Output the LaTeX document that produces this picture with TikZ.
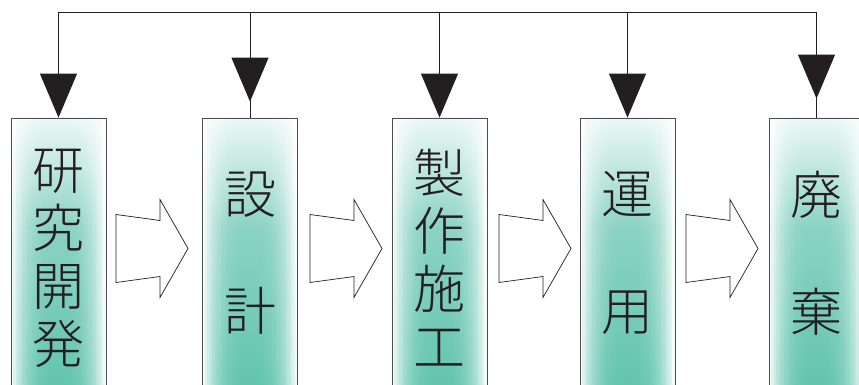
\documentclass[tikz,border=0pt]{standalone}
\usepackage{fontspec}
\newfontfamily\jp{Noto Sans CJK JP}[UprightFont={* Light}]
\usetikzlibrary{arrows.meta}
\definecolor{tealD}{RGB}{94,195,172}
\definecolor{tealM}{RGB}{138,210,195}
\definecolor{ink}{RGB}{35,31,32}
\tikzset{
  stagebox/.style={minimum width=95pt, minimum height=282pt, inner sep=0pt, draw=black!70, line width=0.8pt},
  stagetext/.style={font=\jp\fontsize{52}{58}\selectfont, text=ink, align=center, inner sep=0pt},
  feed/.style={draw=ink, line width=0.9pt},
  feedarrow/.style={feed, -{Triangle[width=37pt,length=44pt]}},
  blockarrow/.style={draw=ink, line width=0.7pt, fill=white, line join=miter}
}
\newcommand\mystage[2]{% name, centre x
  \foreach \i in {0,...,37}{%
    \pgfmathsetmacro\xa{#2-47.5+\i*2.5}%
    \pgfmathsetmacro\u{min(\i+0.5,37.5-\i)/19}%
    \pgfmathtruncatemacro\p{100*(1-(1-\u)^3)}%
    \pgfmathtruncatemacro\q{\p*0.18}%
    \shade[top color=tealM!\q!white, bottom color=tealM!\p!white]
      (\xa,118) rectangle (\xa+2.8,228);
    \shade[top color=tealM!\p!white, bottom color=tealD!\p!white]
      (\xa,227.5) rectangle (\xa+2.8,400);
  }
  \node[stagebox] (#1) at (#2,259) {};
}
\begin{document}
\begin{tikzpicture}[x=1pt,y=-1pt]
\useasboundingbox (0,0) rectangle (859,385);
\clip (0,0) rectangle (859,385);
\fill[white] (0,0) rectangle (859,385);
% boxes
\mystage{b1}{58.5}
\mystage{b2}{250}
\mystage{b3}{439.5}
\mystage{b4}{627.5}
\mystage{b5}{816.5}
% texts
\node[stagetext] (t1) at (58,258) {研\\究\\開\\発};
\node[stagetext] (t2) at (250,253) {設\\[59pt]計};
\node[stagetext] (t3) at (439,258) {製\\作\\施\\工};
\node[stagetext] (t4) at (627.5,253) {運\\[59pt]用};
\node[stagetext] (t5) at (816,253) {廃\\[59pt]棄};
% feedback line
\coordinate (f1) at (b1.north |- 0,12);
\coordinate (f2) at (b2.north |- 0,12);
\coordinate (f3) at (b3.north |- 0,12);
\coordinate (f4) at (b4.north |- 0,12);
\coordinate (f5) at (b5.north |- 0,12);
\draw[feed] (f1) -- (f5);
\draw[feedarrow] (f1) -- (b1.north);
\draw[feed] (f2) -- (b2.north);
\draw[feedarrow] (f2) -- ([yshift=16pt]b2.north);
\draw[feedarrow] (f3) -- (b3.north);
\draw[feedarrow] (f4) -- (b4.north);
\draw[feed] (f5) -- (b5.north);
\draw[feedarrow] (f5) -- ([yshift=19pt]b5.north);
% block arrows
\foreach \xo in {116,310,499,686}{
  \draw[blockarrow] (\xo,214.5) -- (\xo+44,220.5) -- (\xo+44,199.5) -- (\xo+72,248.5)
    -- (\xo+44,297.5) -- (\xo+44,276.5) -- (\xo,282.5) -- cycle;
}
\end{tikzpicture}
\end{document}
